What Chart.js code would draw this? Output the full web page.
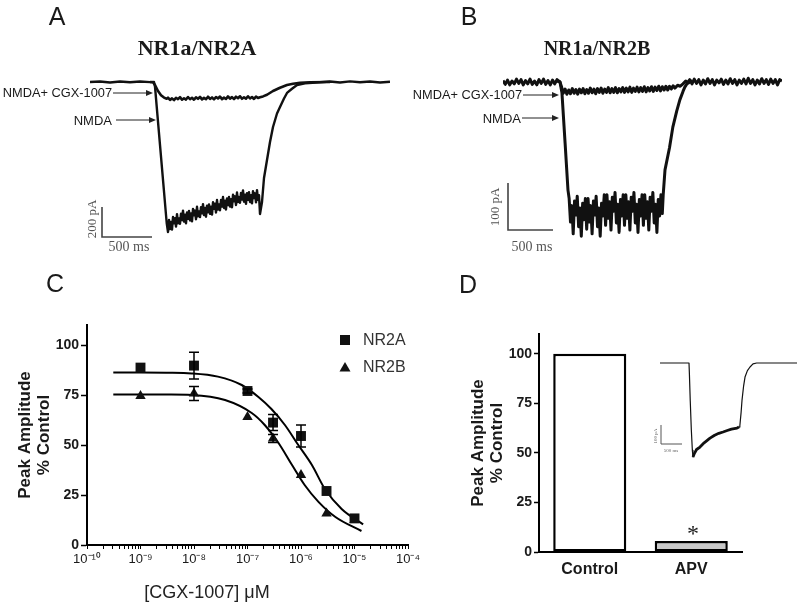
<!DOCTYPE html>
<html>
<head>
<meta charset="utf-8">
<script src="https://cdn.jsdelivr.net/npm/chart.js@4.4.0/dist/chart.umd.min.js"></script>
<style>
  body { margin: 0; background: #fff; }
  #fig { position: relative; width: 800px; height: 604px; overflow: hidden; background: #fff;
         font-family: "Liberation Sans", Arial, sans-serif; color: #1a1a1a; }
  canvas { position: absolute; }
  .t { position: absolute; white-space: nowrap; line-height: 1; }
</style>
</head>
<body>
<div id="fig">
  <canvas id="chartA" width="400" height="260" style="left:0;top:0"></canvas>
  <canvas id="chartB" width="400" height="260" style="left:400px;top:0"></canvas>
  <canvas id="chartC" width="420" height="344" style="left:0;top:260px"></canvas>
  <canvas id="chartD" width="380" height="344" style="left:420px;top:260px"></canvas>
  <canvas id="chartInset" width="145" height="110" style="left:655px;top:355px"></canvas>
</div>
<script>
// ================= data =================
// traces: [time (ms), current (pA)]
const nmdaA = [
  [0, 0], [100, 3], [200, -3], [300, 3], [400, -2], [500, 3], [600, -1], [640, 0],
  [650, -31], [700, -420], [740, -730], [767, -940], [780, -1000],
  [790, -920], [800, -981], [810, -933], [820, -984], [830, -900], [840, -942], [850, -908],
  [860, -964], [870, -881], [880, -942], [890, -909], [900, -945], [910, -878], [920, -921],
  [930, -858], [940, -931], [950, -884], [960, -942], [970, -870], [980, -912], [990, -860],
  [1000, -923], [1010, -876], [1020, -929], [1030, -846], [1040, -889], [1050, -857], [1060, -915],
  [1070, -832], [1080, -895], [1090, -863], [1100, -901], [1110, -834], [1120, -876], [1130, -814],
  [1140, -887], [1150, -840], [1160, -898], [1170, -825], [1180, -868], [1190, -816], [1200, -879],
  [1210, -831], [1220, -884], [1230, -802], [1240, -845], [1250, -812], [1260, -870], [1270, -787],
  [1280, -850], [1290, -817], [1300, -855], [1310, -787], [1320, -830], [1330, -767], [1340, -840],
  [1350, -792], [1360, -850], [1370, -777], [1380, -820], [1390, -767], [1400, -830], [1410, -782],
  [1420, -835], [1430, -752], [1440, -795], [1450, -762], [1460, -820], [1470, -737], [1480, -800],
  [1490, -767], [1500, -805], [1510, -739], [1520, -784], [1530, -723], [1540, -798], [1550, -752],
  [1560, -812], [1570, -741], [1580, -786], [1590, -735], [1600, -800], [1610, -754], [1620, -809],
  [1630, -728], [1640, -773], [1650, -742], [1660, -802], [1670, -721], [1680, -786], [1690, -755],
  [1700, -880], [1720, -800], [1740, -640], [1770, -520], [1800, -400], [1830, -300], [1870, -210],
  [1900, -167], [1940, -110], [1970, -73], [2020, -45], [2070, -20], [2150, -8], [2300, -2],
  [2400, 3], [2500, -3], [2600, 4], [2700, -2], [2800, 3], [2900, -3], [3000, 2]
];
const cgxA = [
  [600, 0], [630, -2], [650, -20], [680, -60], [710, -88], [740, -104], [767, -112],
  [780, -104], [800, -119], [820, -109], [840, -121], [860, -105], [880, -114], [900, -101],
  [920, -118], [940, -108], [960, -117], [980, -100], [1000, -115], [1020, -105], [1040, -118],
  [1060, -102], [1080, -112], [1100, -99], [1120, -116], [1140, -106], [1160, -115], [1180, -98],
  [1200, -113], [1220, -103], [1240, -116], [1260, -100], [1280, -110], [1300, -97], [1320, -114],
  [1340, -104], [1360, -113], [1380, -96], [1400, -111], [1420, -101], [1440, -114], [1460, -98],
  [1480, -108], [1500, -95], [1520, -112], [1540, -102], [1560, -111], [1580, -95], [1600, -110],
  [1620, -100], [1640, -113], [1660, -97], [1680, -107], [1700, -102], [1730, -96], [1770, -85],
  [1830, -60], [1900, -38], [1970, -20], [2030, -12], [2100, -6], [2200, -2], [2400, 0]
];
const nmdaB = [
  [0, 3], [25, -5], [50, 4], [75, -6], [100, 2], [125, -4], [150, 6], [175, -3], [200, 5],
  [225, -6], [250, 3], [275, -4], [300, 6], [325, -5], [350, 2], [375, -6], [400, 5], [425, -3],
  [450, 6], [475, -5], [500, 3], [525, -6], [550, 4], [575, -4], [600, 5], [633, 0],
  [655, -23], [690, -130], [722, -230],
  [735, -248], [750, -298], [765, -263], [780, -323], [795, -253], [810, -283], [825, -243],
  [840, -308], [855, -268], [870, -328], [885, -258], [900, -293], [915, -248], [930, -313],
  [945, -248], [960, -298], [975, -263], [990, -323], [1005, -253], [1020, -283], [1035, -243],
  [1050, -308], [1065, -268], [1080, -328], [1095, -258], [1110, -285], [1125, -240], [1140, -305],
  [1155, -240], [1170, -290], [1185, -255], [1200, -315], [1215, -245], [1230, -275], [1245, -235],
  [1260, -300], [1275, -260], [1290, -320], [1305, -250], [1320, -285], [1335, -240], [1350, -305],
  [1365, -240], [1380, -290], [1395, -255], [1410, -315], [1425, -245], [1440, -275], [1455, -235],
  [1470, -300], [1485, -260], [1500, -320], [1515, -250], [1530, -285], [1545, -240], [1560, -305],
  [1575, -240], [1590, -290], [1605, -255], [1620, -315], [1635, -245], [1650, -275], [1665, -235],
  [1680, -300], [1695, -260], [1710, -320], [1725, -250], [1740, -285], [1755, -240], [1770, -280],
  [1780, -240], [1800, -187], [1850, -140], [1887, -96], [1930, -62], [1965, -38], [2000, -20],
  [2020, -11], [2050, -2], [2075, 5], [2100, -4], [2125, 6], [2150, -3], [2175, 5], [2200, -6],
  [2225, 4], [2250, -4], [2275, 7], [2300, -3], [2325, 5], [2350, -6], [2375, 4], [2400, -2],
  [2425, 6], [2450, -5], [2475, 4], [2500, -4], [2525, 7], [2550, -3], [2575, 5], [2600, -6],
  [2625, 4], [2650, -3], [2675, 6], [2700, -4], [2725, 8], [2750, -3], [2775, 5], [2800, -6],
  [2825, 4], [2850, -4], [2875, 7], [2900, -3], [2925, 5], [2950, -5], [2975, 6], [3000, -3],
  [3025, 5], [3050, -6], [3075, 5], [3100, 2]
];
const cgxB = [
  [600, 2], [633, 0], [650, -10], [670, -24], [690, -15], [710, -26], [730, -17], [750, -25],
  [770, -14], [790, -24], [810, -16], [830, -26], [850, -15], [870, -23], [890, -14], [910, -25],
  [930, -16], [950, -24], [970, -13], [990, -23], [1010, -15], [1030, -25], [1050, -14], [1070, -22],
  [1090, -13], [1110, -24], [1130, -15], [1150, -22], [1170, -12], [1190, -23], [1210, -14],
  [1230, -22], [1250, -12], [1270, -23], [1290, -14], [1310, -21], [1330, -12], [1350, -22],
  [1370, -13], [1390, -21], [1410, -11], [1430, -22], [1450, -13], [1470, -20], [1490, -11],
  [1510, -21], [1530, -12], [1550, -20], [1570, -10], [1590, -21], [1610, -12], [1630, -19],
  [1650, -10], [1670, -20], [1690, -11], [1710, -18], [1730, -9], [1750, -19], [1770, -10],
  [1790, -17], [1810, -9], [1830, -17], [1850, -9], [1870, -15], [1890, -8], [1910, -13],
  [1940, -7], [1970, -9], [2000, -4], [2030, 2], [2060, -2], [2100, 3]
];
const apvInset = [
  [0, 0], [300, 0], [600, 0], [690, 0], [700, -60], [720, -200], [745, -350], [770, -460],
  [785, -494], [820, -475], [870, -455], [952, -442], [1050, -420], [1190, -395], [1300, -380],
  [1400, -370], [1500, -363], [1600, -355], [1700, -348], [1833, -342], [1880, -337], [1900, -330],
  [1930, -260], [1952, -195], [1990, -120], [2023, -74], [2080, -40], [2142, -21], [2213, -5],
  [2300, 0], [2600, 0], [3260, 0]
];

// panel C: dose-response
const doses = [1e-9, 1e-8, 1e-7, 3e-7, 1e-6, 3e-6, 1e-5];
const nr2a = [88.7, 89.7, 77, 61.2, 54.5, 27, 13.3];
const nr2aErr = [0, 6.7, 1, 4, 5.5, 0, 0];
const nr2b = [74.5, 75.8, 64, 53.3, 35, 15.8, 12.5];
const nr2bErr = [0, 3.5, 0, 2, 0, 0, 0];
const fitNR2A = [
  [3.1e-10, 86.2], [1e-9, 86.2], [3e-9, 86.1], [9.1e-9, 85.8], [2.8e-8, 84.2], [7.8e-8, 80],
  [1.6e-7, 74], [2.8e-7, 68], [5e-7, 60], [8.9e-7, 50], [1.6e-6, 40], [2.8e-6, 28],
  [5.75e-6, 18], [1.45e-5, 10.3]
];
const fitNR2B = [
  [3.1e-10, 75.3], [1e-9, 75.3], [3e-9, 75.2], [9.1e-9, 75], [3.8e-8, 72.5], [1.2e-7, 66],
  [2.1e-7, 60], [3.8e-7, 51], [6.8e-7, 40], [1.17e-6, 30], [2.1e-6, 21.7], [4.4e-6, 14],
  [1.35e-5, 7]
];
const xDecades = [-10, -9, -8, -7, -6, -5, -4];
const xTickLabels = ['10⁻¹⁰', '10⁻⁹', '10⁻⁸', '10⁻⁷', '10⁻⁶', '10⁻⁵', '10⁻⁴'];
const yTicks = [0, 25, 50, 75, 100];

// panel D: bars
const barLabels = ['Control', 'APV'];
const barValues = [100, 5.5];

// scale bars
const scaleA = { ms: 500, pA: 200 };
const scaleB = { ms: 500, pA: 100 };
const scaleInset = { ms: 500, pA: 100 };

// ================= helpers =================
Chart.defaults.font.family = '"Liberation Sans", Arial, sans-serif';
Chart.defaults.color = '#1a1a1a';

const fig = document.getElementById('fig');
function addText(txt, x, y, css, anchor, rot) {
  const d = document.createElement('div');
  d.className = 't';
  d.textContent = txt;
  d.style.cssText += css;
  d.style.left = x + 'px';
  d.style.top = y + 'px';
  let tr = anchor === 'right' ? 'translate(-100%,-50%)' : anchor === 'left' ? 'translate(0,-50%)' : 'translate(-50%,-50%)';
  if (rot) tr += ' rotate(' + rot + 'deg)';
  d.style.transform = tr;
  fig.appendChild(d);
}

function arrow(ctx, x1, x2, y) {
  ctx.save();
  ctx.strokeStyle = '#222';
  ctx.fillStyle = '#222';
  ctx.lineWidth = 1;
  ctx.beginPath();
  ctx.moveTo(x1, y);
  ctx.lineTo(x2 - 5, y);
  ctx.stroke();
  ctx.beginPath();
  ctx.moveTo(x2, y);
  ctx.lineTo(x2 - 7, y - 3);
  ctx.lineTo(x2 - 7, y + 3);
  ctx.closePath();
  ctx.fill();
  ctx.restore();
}

// scale bar: corner given in canvas pixels, lengths through the chart scales
function scaleBar(chart, cx, cy, bar, lw, color) {
  const sx = chart.scales.x, sy = chart.scales.y;
  const w = sx.getPixelForValue(bar.ms) - sx.getPixelForValue(0);
  const h = sy.getPixelForValue(0) - sy.getPixelForValue(-bar.pA);
  const ctx = chart.ctx;
  ctx.save();
  ctx.strokeStyle = color;
  ctx.lineWidth = lw;
  ctx.beginPath();
  ctx.moveTo(cx, cy + h);
  ctx.lineTo(cx, cy);
  ctx.lineTo(cx + w, cy);
  ctx.stroke();
  ctx.restore();
}

function traceChart(id, traces, xmax, ymin, ymax, pad, extra) {
  return new Chart(document.getElementById(id), {
    type: 'line',
    data: {
      datasets: traces.map(tr => ({
        data: tr.pts.map(p => ({ x: p[0], y: p[1] })),
        borderColor: '#111',
        borderWidth: tr.w,
        segment: tr.seg ? { borderWidth: tr.seg } : undefined,
        pointRadius: 0,
        tension: 0,
        borderJoinStyle: 'round'
      }))
    },
    options: {
      responsive: false,
      animation: false,
      devicePixelRatio: 1,
      layout: { padding: pad },
      plugins: { legend: { display: false }, tooltip: { enabled: false } },
      scales: {
        x: { type: 'linear', display: false, min: 0, max: xmax },
        y: { display: false, min: ymin, max: ymax }
      }
    },
    plugins: [{ id: 'extra', afterDraw: extra }]
  });
}

// ================= panel A =================
traceChart('chartA', [{ pts: nmdaA, w: 2.4 }, { pts: cgxA, w: 2.6 }], 3000, -1120, 146.7,
  { left: 90, right: 10, top: 60, bottom: 10 },
  chart => {
    arrow(chart.ctx, 113, 153, 93);
    arrow(chart.ctx, 116, 156, 120);
    scaleBar(chart, 102, 237, scaleA, 1.6, '#444');
  });

// ================= panel B =================
traceChart('chartB', [{ pts: nmdaB, w: 3 }, { pts: cgxB, w: 3 }], 3100, -357.4, 46.8,
  { left: 103, right: 18, top: 60, bottom: 10 },
  chart => {
    arrow(chart.ctx, 123, 159, 95);
    arrow(chart.ctx, 122, 159, 118);
    scaleBar(chart, 108, 230, scaleB, 1.6, '#444');
  });

// ================= panel D inset =================
traceChart('chartInset', [{ pts: apvInset, w: 1.2,
    seg: c => (c.p0.parsed.x >= 785 && c.p1.parsed.x <= 1880) ? 2.8 : 1.2 }],
  3260, -536.5, 42,
  { left: 5, right: 3, top: 0, bottom: 0 },
  chart => {
    scaleBar(chart, 6, 89, scaleInset, 1, '#555');
  });

// ================= panel C =================
const xTickValues = [];
xDecades.forEach(e => {
  xTickValues.push(Math.pow(10, e));
  if (e < -4) for (let k = 2; k <= 9; k++) xTickValues.push(k * Math.pow(10, e));
});

const errorBars = {
  id: 'errorBars',
  afterDatasetsDraw(chart) {
    const ctx = chart.ctx, xs = chart.scales.x, ys = chart.scales.y;
    ctx.save();
    ctx.strokeStyle = '#000';
    ctx.lineWidth = 1.5;
    [[nr2a, nr2aErr], [nr2b, nr2bErr]].forEach(([vals, errs]) => {
      doses.forEach((d, i) => {
        if (!errs[i]) return;
        const x = xs.getPixelForValue(d);
        const y1 = ys.getPixelForValue(vals[i] + errs[i]);
        const y2 = ys.getPixelForValue(vals[i] - errs[i]);
        ctx.beginPath();
        ctx.moveTo(x, y1); ctx.lineTo(x, y2);
        ctx.moveTo(x - 5, y1); ctx.lineTo(x + 5, y1);
        ctx.moveTo(x - 5, y2); ctx.lineTo(x + 5, y2);
        ctx.stroke();
      });
    });
    // legend markers
    ctx.fillStyle = '#111';
    ctx.fillRect(340, 75, 10, 10);
    ctx.beginPath();
    ctx.moveTo(345, 102); ctx.lineTo(350.5, 111.5); ctx.lineTo(339.5, 111.5);
    ctx.closePath();
    ctx.fill();
    ctx.restore();
  }
};

new Chart(document.getElementById('chartC'), {
  type: 'line',
  data: {
    datasets: [
      { label: 'NR2A', data: doses.map((d, i) => ({ x: d, y: nr2a[i] })), showLine: false,
        pointStyle: 'rect', pointRadius: 7, pointBackgroundColor: '#111', pointBorderWidth: 0 },
      { label: 'NR2B', data: doses.map((d, i) => ({ x: d, y: nr2b[i] })), showLine: false,
        pointStyle: 'triangle', pointRadius: 6, pointBackgroundColor: '#111', pointBorderWidth: 0 },
      { label: 'fit NR2A', data: fitNR2A.map(p => ({ x: p[0], y: p[1] })), borderColor: '#000',
        borderWidth: 2, pointRadius: 0, cubicInterpolationMode: 'monotone' },
      { label: 'fit NR2B', data: fitNR2B.map(p => ({ x: p[0], y: p[1] })), borderColor: '#000',
        borderWidth: 2, pointRadius: 0, cubicInterpolationMode: 'monotone' }
    ]
  },
  options: {
    responsive: false,
    animation: false,
    devicePixelRatio: 1,
    layout: { padding: { top: 65, right: 12, left: 0, bottom: 0 } },
    plugins: { legend: { display: false }, tooltip: { enabled: false } },
    scales: {
      x: {
        type: 'logarithmic', min: 1e-10, max: 1e-4,
        afterBuildTicks: s => { s.ticks = xTickValues.map(v => ({ value: v })); },
        ticks: {
          autoSkip: false, maxRotation: 0, minRotation: 0, padding: 3, font: { size: 13 },
          callback: v => {
            const e = Math.log10(v), r = Math.round(e);
            return Math.abs(e - r) < 1e-6 ? xTickLabels[xDecades.indexOf(r)] : '';
          }
        },
        grid: { drawOnChartArea: false, tickLength: 4, tickColor: '#000', tickWidth: 1 },
        border: { color: '#000', width: 2 },
        afterFit: s => { s.height = 59; s.paddingLeft = 0; s.paddingRight = 0; }
      },
      y: {
        min: 0, max: 110,
        afterBuildTicks: s => { s.ticks = yTicks.map(v => ({ value: v })); },
        ticks: { font: { size: 14, weight: 'bold' }, padding: 2 },
        grid: { drawOnChartArea: false, tickLength: 6, tickColor: '#000', tickWidth: 1.5 },
        border: { color: '#000', width: 2 },
        title: { display: true, text: ['Peak Amplitude', '% Control'],
                 font: { size: 17, weight: 'bold', lineHeight: 1.1 }, padding: { top: 16, bottom: 0 } },
        afterFit: s => { s.width = 87; s.paddingTop = 0; s.paddingBottom = 0; }
      }
    }
  },
  plugins: [errorBars]
});

// ================= panel D =================
new Chart(document.getElementById('chartD'), {
  type: 'bar',
  data: {
    labels: barLabels,
    datasets: [{
      data: barValues,
      backgroundColor: ['#ffffff', '#c8c8c8'],
      borderColor: '#000',
      borderWidth: 2.5,
      borderSkipped: false,
      barPercentage: 0.72,
      categoryPercentage: 1
    }]
  },
  options: {
    responsive: false,
    animation: false,
    devicePixelRatio: 1,
    layout: { padding: { top: 74, right: 58, left: 0, bottom: 0 } },
    plugins: { legend: { display: false }, tooltip: { enabled: false } },
    scales: {
      x: {
        ticks: { font: { size: 16, weight: 'bold' }, padding: 8 },
        grid: { display: false, drawTicks: false },
        border: { color: '#000', width: 2 },
        afterFit: s => { s.height = 52; }
      },
      y: {
        min: 0, max: 110,
        afterBuildTicks: s => { s.ticks = yTicks.map(v => ({ value: v })); },
        ticks: { font: { size: 14, weight: 'bold' }, padding: 2 },
        grid: { drawOnChartArea: false, tickLength: 5, tickColor: '#000', tickWidth: 1.5 },
        border: { color: '#000', width: 2 },
        title: { display: true, text: ['Peak Amplitude', '% Control'],
                 font: { size: 17, weight: 'bold', lineHeight: 1.1 }, padding: { top: 49, bottom: 0 } },
        afterFit: s => { s.width = 119; s.paddingTop = 0; s.paddingBottom = 0; }
      }
    }
  }
});

// ================= text =================
const serif = 'font-family:"Liberation Serif","Times New Roman",serif;';
addText('A', 57, 16, 'font-size:25px;');
addText('B', 469, 16, 'font-size:25px;');
addText('C', 55, 283, 'font-size:25px;');
addText('D', 468, 284, 'font-size:25px;');
addText('NR1a/NR2A', 197, 48, serif + 'font-size:22px;font-weight:bold;');
addText('NR1a/NR2B', 597, 48, serif + 'font-size:20px;font-weight:bold;');
addText('NMDA+ CGX-1007', 112, 93, 'font-size:12.8px;', 'right');
addText('NMDA', 112, 120, 'font-size:13px;', 'right');
addText('NMDA+ CGX-1007', 522, 95, 'font-size:12.8px;', 'right');
addText('NMDA', 521, 118, 'font-size:13px;', 'right');
addText('200 pA', 91, 219, serif + 'font-size:13px;color:#555;', 'center', -90);
addText('500 ms', 129, 247, serif + 'font-size:14px;color:#555;');
addText('100 pA', 494, 207, serif + 'font-size:13px;color:#555;', 'center', -90);
addText('500 ms', 532, 247, serif + 'font-size:14px;color:#555;');
addText('100 pA', 655, 436, serif + 'font-size:5px;color:#666;', 'center', -90);
addText('500 ms', 671, 450, serif + 'font-size:5px;color:#666;');
addText('NR2A', 363, 340, 'font-size:16px;color:#333;', 'left');
addText('NR2B', 363, 367, 'font-size:16px;color:#333;', 'left');
addText('[CGX-1007] μM', 207, 592, 'font-size:18px;color:#222;');
addText('*', 693, 533, serif + 'font-size:24px;');
</script>
</body>
</html>
